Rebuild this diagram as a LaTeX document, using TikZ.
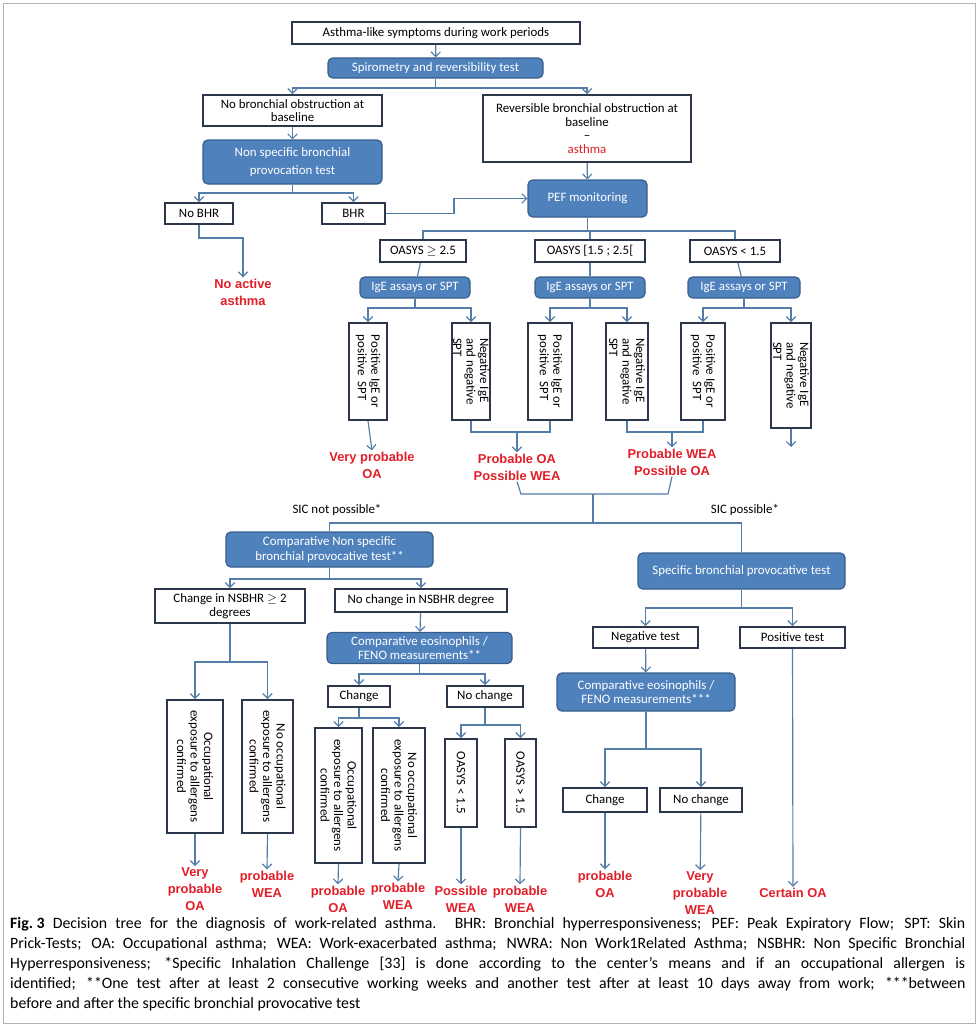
\documentclass[tikz,border=0pt]{standalone}
\usepackage{fontspec}
\setmainfont{Carlito}
\newfontfamily\lsans{Liberation Sans}
\usetikzlibrary{arrows.meta}
\definecolor{bblue}{RGB}{79,129,189}
\definecolor{bedge}{RGB}{56,93,138}
\definecolor{kante}{RGB}{45,55,75}
\definecolor{linie}{RGB}{85,125,170}
\definecolor{rot}{RGB}{225,30,40}
\tikzset{
 sz/.style 2 args={minimum width=#1*0.3mm,minimum height=#2*0.3mm},
 wbox/.style={draw=kante,line width=1.6pt,fill=white,align=center,inner sep=1pt,font=\fontsize{11}{11.5}\selectfont},
 bbox/.style={draw=bedge,line width=1pt,fill=bblue,text=white,rounded corners=4pt,align=center,inner sep=1pt,font=\fontsize{11}{12.5}\selectfont},
 vbox/.style={wbox,rotate=-90},
 res/.style={text=rot,align=center,inner sep=1pt,font=\lsans\bfseries\fontsize{11}{14.5}\selectfont},
 lin/.style={draw=linie,line width=1pt},
 pfeil/.style={lin,-{Straight Barb[length=4pt,width=8pt]}},
}
\begin{document}
\begin{tikzpicture}[x=0.3mm,y=-0.3mm]
\useasboundingbox (0,0) rectangle (978,1026);
\draw[gray!60,line width=.6pt] (3,3) rectangle (975,1023);
%Kopf
\node[wbox,sz={288}{22}] (symp) at (436,33) {Asthma-like symptoms during work periods};
\node[bbox,sz={215}{20}] (spiro) at (435.5,68) {Spirometry and reversibility test};
\node[wbox,sz={179}{31}] (noobs) at (292.5,110.5) {No bronchial obstruction at\\baseline};
\node[wbox,sz={208}{67}] (revobs) at (587,128.5) {Reversible bronchial obstruction at\\baseline\\--\\\textcolor{rot}{asthma}};
\node[bbox,sz={179}{44}] (nsbpt) at (292.5,162) {Non specific bronchial\\[3pt]provocation test};
\node[bbox,sz={119}{37}] (pef) at (587.5,198.5) {PEF monitoring};
\node[wbox,sz={68}{21}] (nobhr) at (199,213.5) {No BHR};
\node[wbox,sz={63}{21}] (bhr) at (353.5,213.5) {BHR};
\node[res] (noact) at (243,292) {No active\\asthma};
\coordinate (f1) at (435.5,88);
\coordinate (f2) at (292.5,193);
\draw[pfeil] (symp) -- (spiro);
\draw[lin] (spiro) -- (f1);
\draw[pfeil] (f1) -| (noobs.north);
\draw[pfeil] (f1) -| (revobs.north);
\draw[pfeil] (noobs) -- (nsbpt);
\draw[pfeil] (revobs) -- (pef);
\draw[lin] (nsbpt) -- (f2);
\draw[pfeil] (f2) -| (nobhr.north);
\draw[pfeil] (f2) -| (bhr.north);
\draw[pfeil] (bhr.east) -- ++(68,0) |- (pef.west);
\draw[pfeil] (nobhr.south) -- ++(0,13) -| (noact.north);
%OASYS
\node[wbox,sz={86}{22}] (oasa) at (423,251) {OASYS \ensuremath{\geq} 2.5};
\node[wbox,sz={110}{22}] (oasb) at (590,251) {OASYS [1.5 ; 2.5[};
\node[wbox,sz={90}{22}] (oasc) at (735,251) {OASYS < 1.5};
\node[bbox,sz={110}{21}] (igea) at (415,287.5) {IgE assays or SPT};
\node[bbox,sz={110}{21}] (igeb) at (590,287.5) {IgE assays or SPT};
\node[bbox,sz={112}{21}] (igec) at (744,287.5) {IgE assays or SPT};
\coordinate (f3) at (587.5,231);
\draw[lin] (pef) -- (f3);
\draw[lin] (f3) -| (oasa.north);
\draw[lin] (f3) -| (oasb.north);
\draw[lin] (f3) -| (oasc.north);
\draw[lin] (oasa) -- (igea);
\draw[lin] (oasb) -- (igeb);
\draw[lin] (oasc) -- (igec);
%IgE
\node[vbox,align=left,sz={97}{38}] (posa) at (368,371.5) {Positive IgE or\\positive\ \ SPT};
\node[vbox,align=left,sz={97}{38}] (nega) at (471,371.5) {Negative IgE\\and negative\\SPT};
\node[vbox,align=left,sz={97}{44}] (posb) at (550,371.5) {Positive IgE or\\positive\ \ SPT};
\node[vbox,align=left,sz={97}{42}] (negb) at (627,371.5) {Negative IgE\\and negative\\SPT};
\node[vbox,align=left,sz={97}{44}] (posc) at (703,371.5) {Positive IgE or\\positive\ \ SPT};
\node[vbox,align=left,sz={105}{40}] (negc) at (791,375.5) {Negative IgE\\and negative\\SPT};
\node[res] (vpoa) at (372,465) {Very probable\\OA};
\node[res] (pboa) at (517,467) {Probable OA\\Possible WEA};
\node[res] (pbwea) at (672,462) {Probable WEA\\Possible OA};
\coordinate (g1) at (415,308);
\coordinate (g2) at (590,308);
\coordinate (g3) at (744,308);
\draw[lin] (igea) -- (g1);
\draw[pfeil] (g1) -| (posa.west);
\draw[pfeil] (g1) -| (nega.west);
\draw[lin] (igeb) -- (g2);
\draw[pfeil] (g2) -| (posb.west);
\draw[pfeil] (g2) -| (negb.west);
\draw[lin] (igec) -- (g3);
\draw[pfeil] (g3) -| (posc.west);
\draw[pfeil] (g3) -| (negc.west);
\coordinate (m2) at (517,432);
\coordinate (m3) at (672,432);
\coordinate (e6) at (791,447);
\draw[pfeil] (posa.east) -- (vpoa.north);
\draw[lin] (nega.east) |- (m2) -| (posb.east);
\draw[pfeil] (m2) -- (pboa.north);
\draw[lin] (negb.east) |- (m3) -| (posc.east);
\draw[pfeil] (m3) -- (pbwea.north);
\draw[pfeil] (negc.east) -- (e6);
%SIC
\coordinate (m4) at (593,494);
\coordinate (m5) at (593,523);
\draw[lin] (pboa.south) -- (521,494) -- (m4) -- (668,494) -- (pbwea.south);
\draw[lin] (m4) -- (m5);
\node[font=\fontsize{11}{12}\selectfont] (sicno) at (337,510) {SIC not possible*};
\node[font=\fontsize{11}{12}\selectfont] (sicja) at (745,510) {SIC possible*};
\node[bbox,sz={207}{35}] (cnsb) at (329.5,549.5) {Comparative Non specific\\bronchial provocative test**};
\node[bbox,sz={207}{36}] (sbpt) at (741.5,571) {Specific bronchial provocative test};
\draw[lin] (m5) -| (cnsb.north);
\draw[lin] (m5) -| (sbpt.north);
%links
\node[wbox,sz={150}{34}] (chg) at (230,606) {Change in NSBHR \ensuremath{\geq} 2\\degrees};
\node[wbox,sz={172}{23}] (nochg) at (421,600.5) {No change in NSBHR degree};
\node[bbox,sz={185}{31}] (eos) at (419.5,648) {Comparative eosinophils /\\FENO measurements**};
\node[wbox,sz={62}{21}] (chgb) at (359,696.5) {Change};
\node[wbox,sz={76}{21}] (nochgb) at (485,696.5) {No change};
\node[vbox,sz={133}{56}] (occa) at (195,766.5) {Occupational\\exposure to allergens\\confirmed};
\node[vbox,sz={133}{51}] (nooca) at (267.5,766.5) {No occupational\\exposure to allergens\\confirmed};
\node[vbox,sz={135}{47}] (occb) at (338.5,795.5) {Occupational\\exposure to allergens\\confirmed};
\node[vbox,sz={135}{52}] (noocb) at (399,795.5) {No occupational\\exposure to allergens\\confirmed};
\node[vbox,sz={88}{32}] (oasd) at (461,783) {OASYS < 1.5};
\node[vbox,sz={88}{31}] (oase) at (520.5,783) {OASYS > 1.5};
\node[res] (r1) at (195,889) {Very\\probable\\OA};
\node[res] (r2) at (267,884) {probable\\WEA};
\node[res] (r3) at (338,899) {probable\\OA};
\node[res] (r4) at (398,896) {probable\\WEA};
\node[res] (r5) at (461,899) {Possible\\WEA};
\node[res] (r6) at (520,899) {probable\\WEA};
\coordinate (h1) at (329.5,579);
\coordinate (h2) at (230,662);
\coordinate (h3) at (419.5,674);
\coordinate (h4) at (359,718);
\coordinate (h5) at (485,725);
\draw[lin] (cnsb) -- (h1);
\draw[pfeil] (h1) -| (chg.north);
\draw[pfeil] (h1) -| (nochg.north);
\draw[lin] (chg) -- (h2);
\draw[pfeil] (h2) -| (occa.west);
\draw[pfeil] (h2) -| (nooca.west);
\draw[pfeil] (nochg) -- (eos);
\draw[lin] (eos) -- (h3);
\draw[pfeil] (h3) -| (chgb.north);
\draw[pfeil] (h3) -| (nochgb.north);
\draw[lin] (chgb) -- (h4);
\draw[pfeil] (h4) -| (occb.west);
\draw[pfeil] (h4) -| (noocb.west);
\draw[lin] (nochgb) -- (h5);
\draw[pfeil] (h5) -| (oasd.west);
\draw[pfeil] (h5) -| (oase.west);
\draw[pfeil] (occa.east) -- (r1.north);
\draw[pfeil] (nooca.east) -- (r2.north);
\draw[pfeil] (occb.east) -- (r3.north);
\draw[pfeil] (noocb.east) -- (r4.north);
\draw[pfeil] (oasd.east) -- (r5.north);
\draw[pfeil] (oase.east) -- (r6.north);
%rechts
\node[wbox,sz={105}{21}] (neg) at (645.5,637.5) {Negative test};
\node[wbox,sz={105}{21}] (pos) at (792.5,637.5) {Positive test};
\node[bbox,sz={178}{38}] (eos2) at (646,692) {Comparative eosinophils /\\FENO measurements***};
\node[wbox,sz={84}{24}] (chgc) at (605,800) {Change};
\node[wbox,sz={82}{24}] (nochgc) at (701,800) {No change};
\node[res] (r7) at (605,884) {probable\\OA};
\node[res] (r8) at (700,893) {Very\\probable\\WEA};
\node[res] (r9) at (793,893) {Certain OA};
\coordinate (k1) at (741.5,608);
\coordinate (k2) at (646,749);
\draw[lin] (sbpt) -- (k1);
\draw[pfeil] (k1) -| (neg.north);
\draw[pfeil] (k1) -| (pos.north);
\draw[pfeil] (neg) -- (eos2);
\draw[lin] (eos2) -- (k2);
\draw[pfeil] (k2) -| (chgc.north);
\draw[pfeil] (k2) -| (nochgc.north);
\draw[pfeil] (chgc) -- (r7);
\draw[pfeil] (nochgc) -- (r8);
\draw[pfeil] (pos) -- (r9);
%Legende
\node[anchor=north west,inner sep=0pt,text width=28.65cm,align=justify,font=\fontsize{13.5}{17}\selectfont] (capt) at (10,917) {\textbf{\mbox{Fig.\ 3}} Decision tree for the diagnosis of work-related asthma. BHR: Bronchial hyperresponsiveness; PEF: Peak Expiratory Flow; SPT: Skin\linebreak Prick-Tests; OA: Occupational asthma; WEA: Work-exacerbated asthma; NWRA: Non Work1Related Asthma; NSBHR: Non Specific Bronchial\linebreak Hyperresponsiveness; *Specific Inhalation Challenge [33] is done according to the center's means and if an occupational allergen is\linebreak identified; **One test after at least 2 consecutive working weeks and another test after at least 10 days away from work; ***between\linebreak before and after the specific bronchial provocative test};
\end{tikzpicture}
\end{document}
